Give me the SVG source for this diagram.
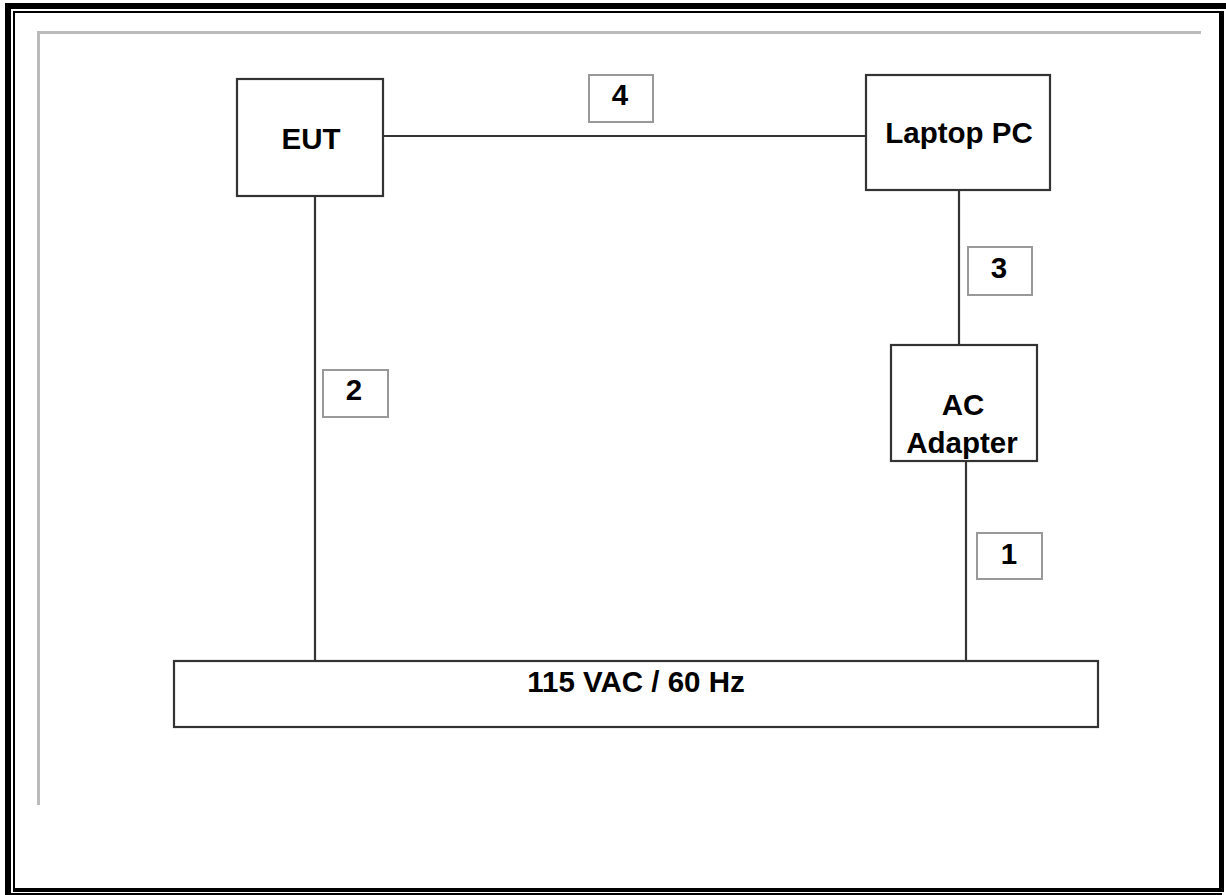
<svg xmlns="http://www.w3.org/2000/svg" width="1226" height="895" viewBox="0 0 1226 895">
<style>
.node{fill:#fff;stroke:#333;stroke-width:2.2}
.lbl{fill:#fff;stroke:#999;stroke-width:2}
.wire{stroke:#333;stroke-width:2.2;fill:none}
.t{font-family:"Liberation Sans",Arial,sans-serif;font-weight:bold;font-size:29.5px;fill:#000;text-anchor:middle}
</style>
<rect x="0" y="0" width="1226" height="895" fill="#fff"/>
<g id="frame">
<rect x="5" y="3" width="1221" height="6" fill="#000"/>
<rect x="5" y="3" width="6" height="892" fill="#000"/>
<rect x="13" y="11" width="2" height="880" fill="#000"/>
<rect x="13" y="11" width="1209" height="2" fill="#000"/>
<rect x="1219" y="11" width="5" height="881" fill="#000"/>
<rect x="13" y="888" width="1211" height="4" fill="#000"/>
<rect x="5" y="893" width="1217" height="2" fill="#000"/>
<rect x="37" y="31" width="1164" height="3" fill="#bbb"/>
<rect x="37" y="31" width="3" height="774" fill="#bbb"/>
</g>
<g id="connectors">
<line class="wire" x1="383" y1="136" x2="866" y2="136"/>
<line class="wire" x1="315" y1="196" x2="315" y2="661"/>
<line class="wire" x1="959" y1="190" x2="959" y2="345"/>
<line class="wire" x1="966" y1="450" x2="966" y2="661"/>
</g>
<g id="eut"><rect class="node" x="237" y="79" width="146" height="117"/><text class="t" x="311" y="149">EUT</text></g>
<g id="laptop"><rect class="node" x="866" y="75" width="184" height="115"/><text class="t" x="959" y="143">Laptop PC</text></g>
<g id="adapter"><rect class="node" x="891" y="345" width="146" height="116"/><text class="t" x="963" y="415">AC</text><text class="t" x="962" y="453">Adapter</text></g>
<g id="power"><rect class="node" x="174" y="661" width="924" height="66"/><text class="t" x="636" y="692">115 VAC / 60 Hz</text></g>
<g id="label4"><rect class="lbl" x="589" y="75" width="64" height="47"/><text class="t" x="620" y="105">4</text></g>
<g id="label2"><rect class="lbl" x="323" y="370" width="65" height="47"/><text class="t" x="354" y="400">2</text></g>
<g id="label3"><rect class="lbl" x="968" y="247" width="64" height="48"/><text class="t" x="999" y="278">3</text></g>
<g id="label1"><rect class="lbl" x="977" y="533" width="65" height="46"/><text class="t" x="1009" y="564">1</text></g>
</svg>
